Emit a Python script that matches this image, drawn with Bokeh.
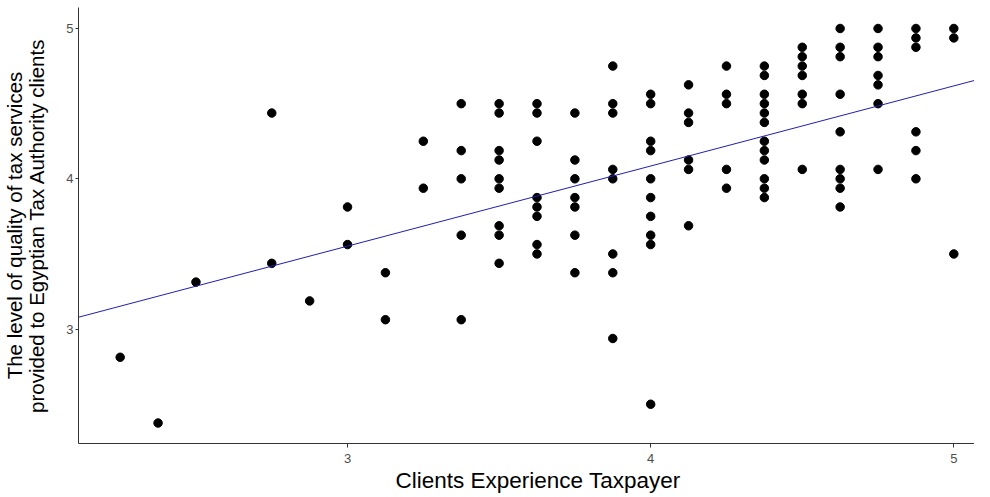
from bokeh.plotting import figure
from bokeh.models import Range1d, FixedTicker, ColumnDataSource, Title
from bokeh.embed import file_html
from bokeh.resources import INLINE

# ---- data (x column -> list of y values) ----
x_levels = [2.25, 2.375, 2.5, 2.75, 2.875, 3.0, 3.125, 3.25, 3.375, 3.5,
            3.625, 3.75, 3.875, 4.0, 4.125, 4.25, 4.375, 4.5, 4.625, 4.75,
            4.875, 5.0]
y_groups = [
    [2.8125],
    [2.375],
    [3.3125],
    [4.4375, 3.4375],
    [3.1875],
    [3.8125, 3.5625],
    [3.375, 3.0625],
    [4.25, 3.9375],
    [4.5, 4.1875, 4.0, 3.625, 3.0625],
    [4.5, 4.4375, 4.1875, 4.125, 4.0, 3.9375, 3.6875, 3.625, 3.4375],
    [4.5, 4.4375, 4.25, 3.875, 3.8125, 3.75, 3.5625, 3.5],
    [4.4375, 4.125, 4.0, 3.875, 3.8125, 3.625, 3.375],
    [4.75, 4.5, 4.4375, 4.0625, 4.0, 3.5, 3.375, 2.9375],
    [4.5625, 4.5, 4.25, 4.1875, 4.0, 3.875, 3.75, 3.625, 3.5625, 2.5],
    [4.625, 4.4375, 4.375, 4.125, 4.0625, 3.6875],
    [4.75, 4.5625, 4.5, 4.0625, 3.9375],
    [4.75, 4.6875, 4.5625, 4.5, 4.4375, 4.375, 4.25, 4.1875, 4.125, 4.0, 3.9375, 3.875],
    [4.875, 4.8125, 4.75, 4.6875, 4.5625, 4.5, 4.0625],
    [5.0, 4.875, 4.8125, 4.5625, 4.3125, 4.0625, 4.0, 3.9375, 3.8125],
    [5.0, 4.875, 4.8125, 4.6875, 4.625, 4.5, 4.0625],
    [5.0, 4.9375, 4.875, 4.3125, 4.1875, 4.0],
    [5.0, 4.9375, 3.5],
]
# fitted regression line: y = intercept + slope * x
fit_intercept = 1.953
fit_slope = 0.533

x_ticks = [3, 4, 5]
y_ticks = [3, 4, 5]
x_title = "Clients Experience Taxpayer"
y_title = "The level of quality of tax services\nprovided to Egyptian Tax Authority clients"

xs = [x for x, ys in zip(x_levels, y_groups) for _ in ys]
ys = [y for g in y_groups for y in g]

# ---- layout ----
W, H = 974, 497
left_b, top_b, bottom_b = 74, 7, 54
x_lo, x_hi = 2.1125, 5.0682
y_lo, y_hi = 2.2388, 5.1397

p = figure(width=W, height=H,
           x_range=Range1d(x_lo, x_hi), y_range=Range1d(y_lo, y_hi),
           output_backend="svg", toolbar_location=None,
           min_border_left=left_b, min_border_right=0,
           min_border_top=top_b, min_border_bottom=bottom_b)

p.xgrid.visible = False
p.ygrid.visible = False
p.outline_line_color = None
p.background_fill_color = "white"
p.border_fill_color = "white"

src = ColumnDataSource(dict(x=xs, y=ys))
p.scatter("x", "y", source=src, size=8.5, color="black")

fx = [x_lo, x_hi]
fy = [fit_intercept + fit_slope * v for v in fx]
p.line(fx, fy, line_color="#1f1fb0", line_width=1)

for ax in (p.xaxis[0], p.yaxis[0]):
    ax.axis_line_color = "#333333"
    ax.axis_line_width = 1
    ax.major_tick_line_color = "#333333"
    ax.major_tick_in = 0
    ax.minor_tick_line_color = None
    ax.major_label_text_color = "#4d4d4d"
    ax.major_label_text_font = "Liberation Sans"
    ax.major_label_text_font_size = "13px"
    ax.axis_label_text_font = "Liberation Sans"
    ax.axis_label_text_font_style = "normal"
    ax.axis_label_text_color = "black"

p.xaxis.ticker = FixedTicker(ticks=x_ticks)
p.yaxis.ticker = FixedTicker(ticks=y_ticks)

p.xaxis.major_tick_out = 4
p.xaxis.major_label_standoff = 6

p.yaxis.major_tick_out = 3
p.yaxis.major_label_standoff = 2
p.yaxis.axis_label = y_title
p.yaxis.axis_label_text_font_size = "20.5px"
p.yaxis.axis_label_text_line_height = 0.95
p.yaxis.axis_label_standoff = 15

# x title: a title under the axis, placed to centre on the full ggplot panel
p.add_layout(Title(text=x_title, align="left", offset=317, standoff=0,
                   vertical_align="bottom",
                   text_font="Liberation Sans", text_font_size="22.5px",
                   text_font_style="normal", text_color="black"), "below")

open("out.html", "w").write(file_html(p, INLINE))
